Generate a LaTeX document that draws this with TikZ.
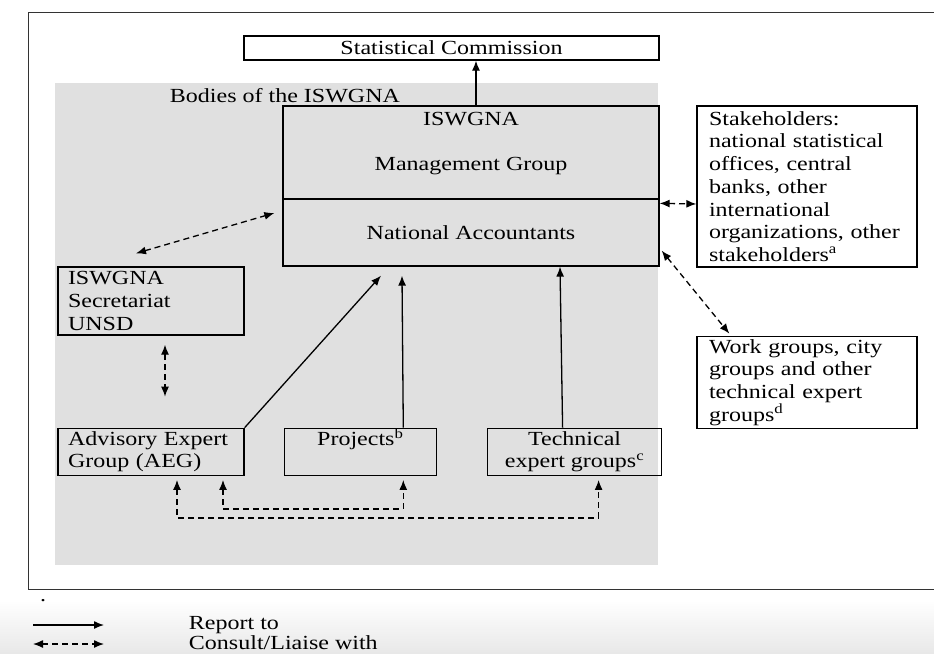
\documentclass[tikz,border=0pt]{standalone}
\usepackage{fontspec}
\setmainfont{Liberation Serif}[FakeStretch=1.2]
\usepackage{tikz}
\usetikzlibrary{shapes, arrows.meta, positioning}
\definecolor{bodygray}{RGB}{224,224,224}
\tikzstyle{block} = [draw, rectangle, inner sep=0pt]
\tikzstyle{leftblock} = [block, align=left, inner xsep=10pt]
\tikzstyle{report} = [->]
\tikzstyle{consult} = [<->, dash pattern=on 6pt off 4pt]

\begin{document}
\begin{tikzpicture}[x=1pt, y=-1pt, line width=1.3pt, node distance=4cm,
    >={Latex[length=10pt,width=8pt]}, font=\fontsize{20}{22.7}\selectfont]
    \useasboundingbox (0,0) rectangle (934,653);
    \shade [top color=white, bottom color=gray!18] (0,600) rectangle (934,653);
    \draw [black!80] (945,12.5) -- (28.6,12.5) -- (28.6,589.6) -- (945,589.6);
    \fill [bodygray] (55,83) rectangle (658,565);
    \node [anchor=west] (bodies) at (166,96) {Bodies of the ISWGNA};

    \node [block, fill=white, minimum width=415pt, minimum height=24pt] (sc) at (451.5,48) {Statistical Commission};
    \node [block, minimum width=376pt, minimum height=93pt] (mgmt) at (471,152.5) {};
    \node at ([yshift=-14pt]mgmt.north) (iswgna) {ISWGNA};
    \node at ([yshift=-13.5pt]mgmt.center) (mgroup) {Management Group};
    \node [block, minimum width=376pt, minimum height=67pt, below=-1.3pt of mgmt] (natacc) {National Accountants};

    \node [leftblock, fill=white, inner xsep=12pt, text width=196pt, minimum height=161pt] (stake) at (807,186.5)
        {Stakeholders:\\national statistical\\offices, central\\banks, other\\international\\organizations, other\\stakeholders\textsuperscript{a}};
    \node [leftblock, fill=white, inner xsep=12pt, text width=196pt, minimum height=92pt, below=68pt of stake] (work)
        {Work groups, city\\groups and other\\technical expert\\groups\textsuperscript{d}};

    \node [leftblock, text width=166pt, minimum height=68pt] (sec) at (151,301) {ISWGNA\\Secretariat\\UNSD};
    \node [leftblock, text width=166pt, minimum height=47pt, below=92pt of sec] (aeg) {Advisory Expert\\Group (AEG)};
    \node [block, align=center, minimum width=152pt, minimum height=47pt, right=39pt of aeg] (proj) {Projects\textsuperscript{b}\\\strut};
    \node [block, align=center, minimum width=174pt, minimum height=47pt, right=50pt of proj] (tech) {Technical\\expert groups\textsuperscript{c}};

    % report lines
    \draw [report] ([xshift=5pt]mgmt.north) -- ([xshift=24.5pt]sc.south);
    \draw [report] (aeg.north east) -- ([xshift=-90pt,yshift=-9pt]natacc.south);
    \draw [report] ([xshift=43pt]proj.north) -- ([xshift=-69pt,yshift=-9pt]natacc.south);
    \draw [report] ([xshift=-12pt]tech.north) -- ([xshift=89pt]natacc.south);

    % consult lines
    \draw [consult] ([xshift=-15pt,yshift=13pt]sec.north) -- ([xshift=-8pt,yshift=19.5pt]natacc.west);
    \draw [consult] ([xshift=14pt,yshift=-9pt]sec.south) -- ([xshift=14pt,yshift=31pt]aeg.north);
    \draw [consult] ([yshift=-5pt]natacc.north east) -- ([yshift=-17.5pt]stake.west);
    \draw [consult] ([xshift=2pt,yshift=16pt]natacc.south east) -- ([xshift=33pt,yshift=2pt]work.north west);
    \draw [consult] ([xshift=72pt,yshift=-4pt]aeg.south) -- ++(0,29) -| ([xshift=43pt,yshift=-4pt]proj.south);
    \draw [consult] ([xshift=26pt,yshift=-4pt]aeg.south) -- ++(0,38) -| ([xshift=24pt,yshift=-4pt]tech.south);

    % legend
    \node (dot) at (43,601) {.};
    \coordinate (repfrom) at (33,625);
    \coordinate (repto) at (104,625);
    \coordinate (confrom) at (33,644);
    \coordinate (conto) at (104,644);
    \draw [report] (repfrom) -- (repto);
    \draw [consult] (confrom) -- (conto);
    \node [anchor=west] (replabel) at (185,625) {Report to};
    \node [anchor=west] (conlabel) at (185,643) {Consult/Liaise with};
\end{tikzpicture}
\end{document}
